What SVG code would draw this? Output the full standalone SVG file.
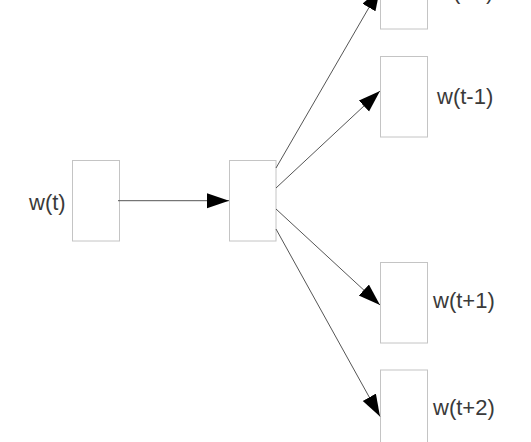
<svg xmlns="http://www.w3.org/2000/svg" width="531" height="442" viewBox="0 0 531 442">
<style>
.box{fill:#fff;stroke:#c4c4c4;stroke-width:1}
.lbl{font-family:"Liberation Sans",Arial,sans-serif;font-size:22px;fill:#3a3a3a}
.edge{stroke:#555;stroke-width:1;fill:none;marker-end:url(#ah)}
</style>
<defs>
<marker id="ah" markerUnits="userSpaceOnUse" markerWidth="23" markerHeight="16" refX="22" refY="7.5" orient="auto">
<path d="M0,0 L22,7.5 L0,15 Z" fill="#000"/>
</marker>
</defs>
<rect width="531" height="442" fill="#fff"/>
<g id="node-wt">
<rect class="box" x="72.5" y="160.5" width="47" height="80.5"/>
<text class="lbl" x="29" y="210">w(t)</text>
</g>
<g id="node-hidden">
<rect class="box" x="229.5" y="160.5" width="46.5" height="80.5"/>
</g>
<g id="node-wt-2">
<rect class="box" x="380.5" y="-52" width="47" height="81"/>
<text class="lbl" x="437" y="-1">w(t-2)</text>
</g>
<g id="node-wt-1">
<rect class="box" x="380.5" y="56.5" width="47" height="80.5"/>
<text class="lbl" x="437" y="104">w(t-1)</text>
</g>
<g id="node-wt1">
<rect class="box" x="380.5" y="262.5" width="47" height="80.5"/>
<text class="lbl" x="433" y="308">w(t+1)</text>
</g>
<g id="node-wt2">
<rect class="box" x="380.5" y="370" width="47" height="81"/>
<text class="lbl" x="433" y="415">w(t+2)</text>
</g>
<g id="connectors">
<line class="edge" x1="118" y1="200.7" x2="229" y2="200.7"/>
<line class="edge" x1="276" y1="168" x2="380" y2="-11.5"/>
<line class="edge" x1="276" y1="188" x2="380" y2="91"/>
<line class="edge" x1="276" y1="209" x2="380" y2="305"/>
<line class="edge" x1="276" y1="229" x2="380" y2="416.5"/>
</g>
</svg>
